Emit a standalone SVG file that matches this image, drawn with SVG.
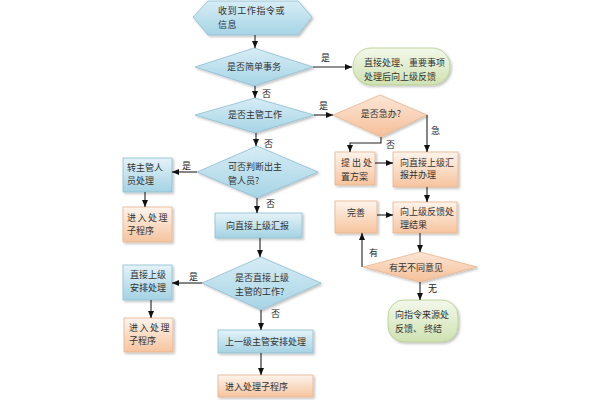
<svg xmlns="http://www.w3.org/2000/svg" width="600" height="400" viewBox="0 0 600 400">
<defs>
<linearGradient id="gb" x1="0" y1="0" x2="0" y2="1"><stop offset="0" stop-color="#e4f3f8"/><stop offset="1" stop-color="#a4d2e3"/></linearGradient>
<linearGradient id="gd" x1="0" y1="0" x2="0" y2="1"><stop offset="0" stop-color="#d6edf5"/><stop offset="1" stop-color="#a6d4e5"/></linearGradient>
<linearGradient id="go" x1="0" y1="0" x2="0" y2="1"><stop offset="0" stop-color="#fdf4ec"/><stop offset="1" stop-color="#f6c49e"/></linearGradient>
<linearGradient id="god" x1="0" y1="0" x2="0" y2="1"><stop offset="0" stop-color="#fce6d6"/><stop offset="1" stop-color="#f5bf98"/></linearGradient>
<linearGradient id="gg" x1="0" y1="0" x2="0" y2="1"><stop offset="0" stop-color="#f3f8ea"/><stop offset="1" stop-color="#cfe2b2"/></linearGradient>
<filter id="sh" x="-10%" y="-10%" width="130%" height="140%"><feDropShadow dx="1.5" dy="1.5" stdDeviation="1" flood-color="#000" flood-opacity="0.25"/></filter>
<marker id="ar" markerWidth="8" markerHeight="8" refX="7" refY="4" orient="auto" markerUnits="userSpaceOnUse"><path d="M0,1 L7,4 L0,7 Z" fill="#111"/></marker>
</defs>
<style>
.b{fill:url(#gb);stroke:#8dbdd0;stroke-width:0.8;filter:url(#sh)}
.d{fill:url(#gd);stroke:#8dbdd0;stroke-width:0.8;filter:url(#sh)}
.o{fill:url(#go);stroke:#e6b58e;stroke-width:0.8;filter:url(#sh)}
.od{fill:url(#god);stroke:#e6b58e;stroke-width:0.8;filter:url(#sh)}
.g{fill:url(#gg);stroke:#b2cc8c;stroke-width:0.8;filter:url(#sh)}
text{font-family:"Noto Sans CJK SC","Liberation Serif",serif;font-size:9px;fill:#333}
.c{text-anchor:middle}
.l{font-size:9px;fill:#222}
.cn path{fill:none;stroke:#222;stroke-width:1.1;marker-end:url(#ar)}
</style>
<rect width="600" height="400" fill="#fff"/>
<g id="start"><polygon class="d" points="193,17 208,1 298,1 312,17 298,35 208,35"/><text x="218" y="14" letter-spacing="0.6">收到工作指令或</text><text x="218" y="28" letter-spacing="0.6">信息</text></g>
<g id="q1"><polygon class="d" points="195,67 254,48 313,67 254,86"/><text class="c" x="254" y="70">是否简单事务</text></g>
<g id="simple"><rect class="g" x="353" y="48" width="97" height="37" rx="18"/><text x="364" y="66">直接处理、重要事项</text><text x="364" y="80">处理后向上级反馈</text></g>
<g id="q2"><polygon class="d" points="195,115 255,98 314,115 255,133"/><text class="c" x="255" y="118">是否主管工作</text></g>
<g id="q-urgent"><polygon class="od" points="333,115 380,95 427,115 381,137"/><text class="c" x="381" y="117">是否急办?</text></g>
<g id="plan"><rect class="o" x="335" y="152" width="40" height="33"/><text x="341" y="166">提 出 处</text><text x="341" y="180">置方案</text></g>
<g id="report-do"><rect class="o" x="393" y="152" width="65" height="35"/><text x="400" y="166">向直接上级汇</text><text x="400" y="178">报并办理</text></g>
<g id="feedback"><rect class="o" x="393" y="202" width="64" height="31"/><text x="400" y="215">向上级反馈处</text><text x="400" y="228">理结果</text></g>
<g id="improve"><rect class="o" x="335" y="201" width="42" height="32"/><text x="347" y="216">完善</text></g>
<g id="q-diff"><polygon class="od" points="363,267 420,252 477,267 420,282"/><text class="c" x="416" y="271">有无不同意见</text></g>
<g id="end"><rect class="g" x="388" y="300" width="70" height="42" rx="16"/><text x="395" y="318">向指令来源处</text><text x="395" y="332">反馈、 终结</text></g>
<g id="q3"><polygon class="d" points="197,172 257,146 318,172 257,198"/><text x="228" y="170">可否判断出主</text><text x="228" y="184">管人员?</text></g>
<g id="transfer"><rect class="b" x="123" y="158" width="49" height="34"/><text x="127" y="171">转主管人</text><text x="127" y="184">员处理</text></g>
<g id="sub1"><rect class="o" x="123" y="207" width="49" height="35"/><text x="127" y="221" letter-spacing="1.5">进入处理</text><text x="127" y="234">子程序</text></g>
<g id="report"><rect class="b" x="215" y="213" width="87" height="25"/><text x="226" y="229">向直接上级汇报</text></g>
<g id="q4"><polygon class="d" points="202,283 261,257 321,283 261,310"/><text x="235" y="281">是否直接上级</text><text x="235" y="295">主管的工作?</text></g>
<g id="direct"><rect class="b" x="123" y="265" width="49" height="35"/><text x="130" y="278">直接上级</text><text x="130" y="291">安排处理</text></g>
<g id="sub2"><rect class="o" x="124" y="318" width="49" height="34"/><text x="129" y="331" letter-spacing="1.5">进入处理</text><text x="129" y="344">子程序</text></g>
<g id="upper"><rect class="b" x="218" y="330" width="95" height="23"/><text x="225" y="345">上一级主管安排处理</text></g>
<g id="sub3"><rect class="o" x="218" y="375" width="95" height="22"/><text x="225" y="390">进入处理子程序</text></g>
<g id="connectors" class="cn">
<path d="M255,35 V48"/>
<path d="M313,67 H352"/>
<path d="M255,86 V98"/>
<path d="M314,115 H333"/>
<path d="M381,137 V143 H350 V152"/>
<path d="M427,115 V152"/>
<path d="M375,163 H393"/>
<path d="M427,187 V202"/>
<path d="M377,215 H393"/>
<path d="M420,233 V252"/>
<path d="M362,267 V233"/>
<path d="M420,282 V300"/>
<path d="M256,133 V146"/>
<path d="M197,172 H172"/>
<path d="M145,192 V207"/>
<path d="M257,198 V213"/>
<path d="M260,238 V257"/>
<path d="M202,283 H172"/>
<path d="M151,300 V318"/>
<path d="M261,310 V330"/>
<path d="M261,353 V375"/>
</g>
<g id="labels">
<text class="l" x="321" y="61">是</text>
<text class="l" x="262" y="97">否</text>
<text class="l" x="319" y="109">是</text>
<text class="l" x="386" y="148">否</text>
<text class="l" x="431" y="134">急</text>
<text class="l" x="369" y="256">有</text>
<text class="l" x="428" y="292">无</text>
<text class="l" x="264" y="147">否</text>
<text class="l" x="182" y="169">是</text>
<text class="l" x="266" y="207">否</text>
<text class="l" x="189" y="280">是</text>
<text class="l" x="271" y="317">否</text>
</g>
</svg>
